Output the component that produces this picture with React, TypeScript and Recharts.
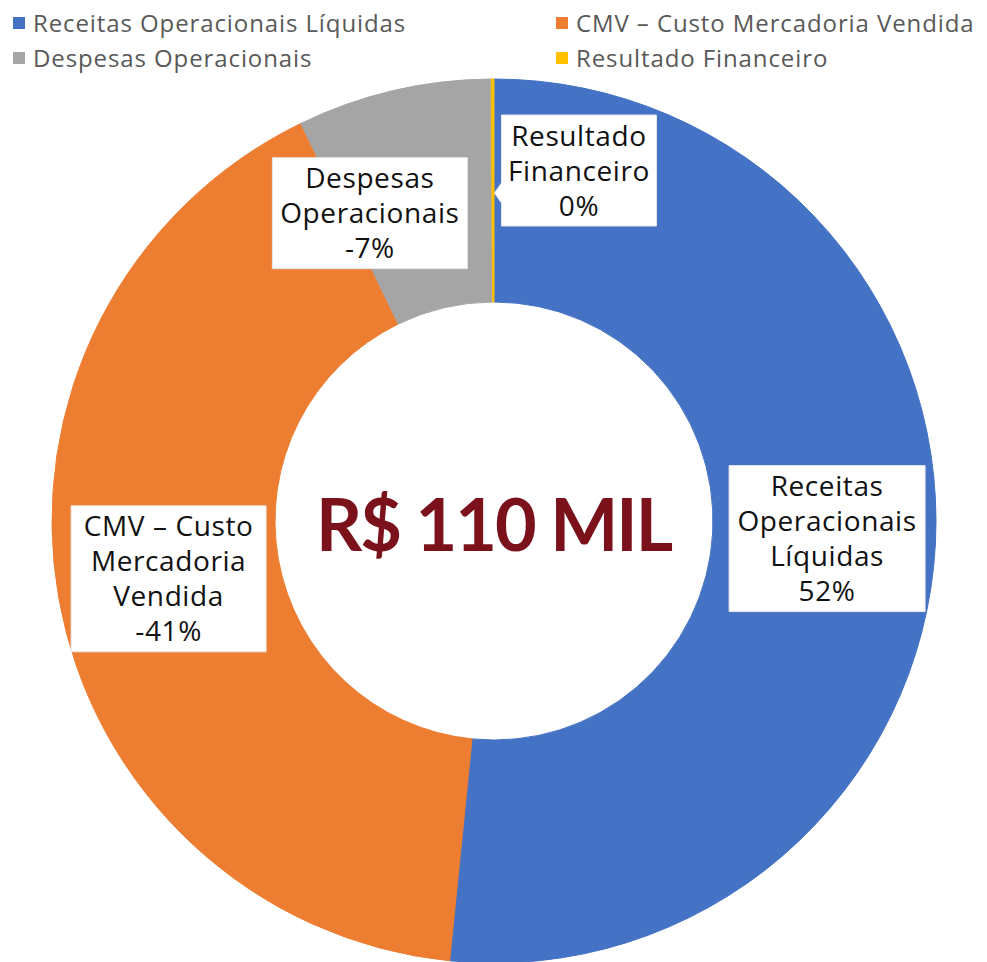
import React from 'react';
import { PieChart, Pie, Cell, Legend, Label } from 'recharts';

const categorias = [
  'Receitas Operacionais Líquidas',
  'CMV – Custo Mercadoria Vendida',
  'Despesas Operacionais',
  'Resultado Financeiro',
];
// participação (%) com sinal, como no DRE
const valores = [51.6, -41.2, -7.1, 0.1];
const cores = ['#4472C4', '#ED7D31', '#A5A5A5', '#FFC000'];
const totalTexto = 'R$ 110 MIL';

// ajustes de posição e tamanho das caixas de rótulo (layout)
const caixaDesloc = [
  { dx: 3, dy: 1, w: 196 },
  { dx: 0, dy: 0, w: 195 },
  { dx: -49, dy: 14, w: 195 },
  { dx: 86, dy: -20, w: 155 },
];

const RAD = Math.PI / 180;
const LINHA = 35;

const quebrar = (texto: string, max = 12) => {
  const linhas: string[] = [];
  let atual = '';
  texto.split(' ').forEach((p) => {
    const t = atual ? atual + ' ' + p : p;
    if (t.length > max && atual) {
      linhas.push(atual);
      atual = p;
    } else {
      atual = t;
    }
  });
  if (atual) linhas.push(atual);
  return linhas;
};

const dados = categorias.map((nome, i) => ({ nome, valor: valores[i], abs: Math.abs(valores[i]) }));

const renderRotulo = (props: any) => {
  const { cx, cy, midAngle, innerRadius, outerRadius, percent, index } = props;
  const r = (innerRadius + outerRadius) / 2;
  const d = caixaDesloc[index];
  const x = cx + r * Math.cos(-midAngle * RAD) + d.dx;
  const y = cy + r * Math.sin(-midAngle * RAD) + d.dy;
  const sinal = valores[index] < 0 ? '-' : '';
  const linhas = [...quebrar(categorias[index]), `${sinal}${Math.round(percent * 100)}%`];
  const h = linhas.length * LINHA + 6;
  const left = x - d.w / 2;
  const top = y - h / 2;
  // caixa com ponteiro para a fatia pequena
  const ponteiro = index === 3;
  const path = ponteiro
    ? `M${left},${top} H${left + d.w} V${top + h} H${left} V${top + 88} L${left - 7},${top + 78} L${left},${top + 68} Z`
    : `M${left},${top} H${left + d.w} V${top + h} H${left} Z`;
  return (
    <g>
      <path d={path} fill="#fff" stroke="#e6e6e6" strokeWidth={1} />
      {linhas.map((l, i) => (
        <text
          key={i}
          x={x}
          y={y + (i - (linhas.length - 1) / 2) * LINHA + 10}
          textAnchor="middle"
          fontSize={28}
          letterSpacing={0.6}
          fontFamily="'Open Sans', sans-serif"
          fill="#111"
        >
          {l}
        </text>
      ))}
    </g>
  );
};

const renderLegenda = (props: any) => {
  const payload = [...(props.payload || [])].sort(
    (a: any, b: any) => categorias.indexOf(a.value) - categorias.indexOf(b.value)
  );
  const cols = [13, 556];
  const rows = [9, 44];
  return (
    <div style={{ position: 'relative', height: 0 }}>
      {payload.map((item: any, i: number) => (
        <div
          key={i}
          style={{
            position: 'absolute',
            left: cols[i % 2],
            top: rows[Math.floor(i / 2)],
            display: 'flex',
            alignItems: 'center',
            whiteSpace: 'nowrap',
            fontFamily: "'Open Sans', sans-serif",
            fontSize: 24,
            letterSpacing: 0.9,
            color: '#595959',
            lineHeight: '28px',
          }}
        >
          <span style={{ width: 12, height: 12, background: item.color, marginRight: 8, display: 'inline-block' }} />
          {item.value}
        </div>
      ))}
    </div>
  );
};

export default function App() {
  return (
    <div style={{ position: 'absolute', top: 0, left: 0, background: '#fff' }}>
      <PieChart width={987} height={962} margin={{ top: 0, right: 0, bottom: 0, left: 0 }}>
        <Legend
          verticalAlign="top"
          align="left"
          content={renderLegenda}
          wrapperStyle={{ top: 0, left: 0, width: 987 }}
        />
        <Pie
          data={dados}
          dataKey="abs"
          nameKey="nome"
          cx={494}
          cy={521}
          innerRadius={219}
          outerRadius={442}
          startAngle={90}
          endAngle={-270}
          label={renderRotulo}
          labelLine={false}
          isAnimationActive={false}
        >
          {dados.map((d, i) => (
            <Cell key={d.nome} fill={cores[i]} stroke={cores[i]} strokeWidth={1} />
          ))}
          <Label
            value={totalTexto}
            position="center"
            dy={44}
            fill="#7B111B"
            style={{ fontSize: 72, fontWeight: 700, fontFamily: 'Lato, sans-serif', letterSpacing: -2 }}
          />
        </Pie>
      </PieChart>
    </div>
  );
}
